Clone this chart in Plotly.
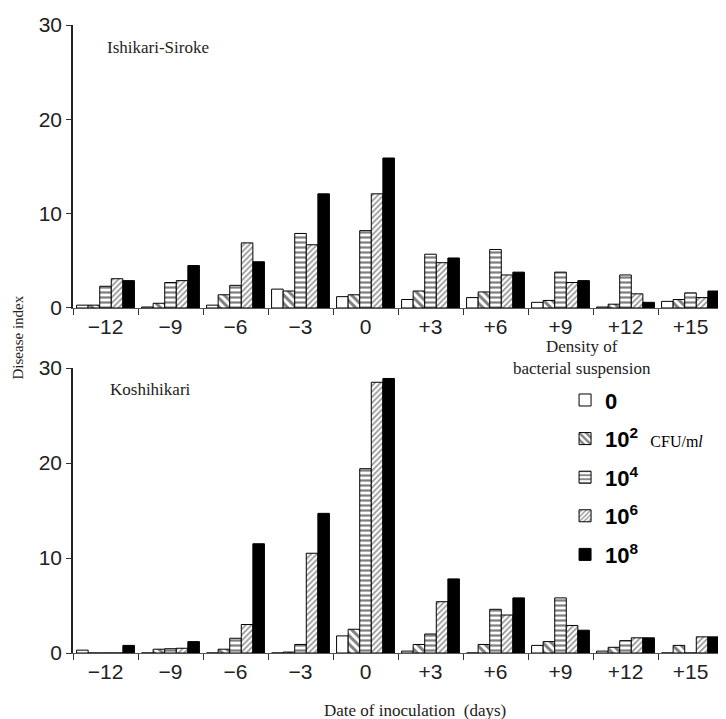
import plotly.graph_objects as go
from plotly.subplots import make_subplots

days = ["−12", "−9", "−6", "−3", "0", "+3", "+6", "+9", "+12", "+15"]
densities = ["0", "10<sup>2</sup>", "10<sup>4</sup>", "10<sup>6</sup>", "10<sup>8</sup>"]

# Ishikari-Siroke (top panel)
ishi_0 = [0.3, 0.1, 0.3, 2.0, 1.2, 0.9, 1.1, 0.6, 0.1, 0.7]
ishi_2 = [0.3, 0.5, 1.4, 1.8, 1.4, 1.8, 1.7, 0.8, 0.4, 0.9]
ishi_4 = [2.3, 2.7, 2.4, 7.9, 8.2, 5.7, 6.2, 3.8, 3.5, 1.6]
ishi_6 = [3.1, 2.9, 6.9, 6.7, 12.1, 4.8, 3.5, 2.7, 1.5, 1.1]
ishi_8 = [2.9, 4.5, 4.9, 12.1, 15.9, 5.3, 3.8, 2.9, 0.6, 1.8]

# Koshihikari (bottom panel)
kosh_0 = [0.3, 0.0, 0.0, 0.0, 1.8, 0.2, 0.0, 0.8, 0.2, 0.0]
kosh_2 = [0.0, 0.4, 0.4, 0.1, 2.5, 0.9, 0.9, 1.2, 0.6, 0.8]
kosh_4 = [0.0, 0.45, 1.55, 0.9, 19.4, 2.0, 4.6, 5.8, 1.3, 0.0]
kosh_6 = [0.0, 0.5, 3.0, 10.5, 28.5, 5.4, 4.0, 2.9, 1.6, 1.7]
kosh_8 = [0.8, 1.2, 11.5, 14.7, 28.9, 7.8, 5.8, 2.4, 1.6, 1.7]

ishi = [ishi_0, ishi_2, ishi_4, ishi_6, ishi_8]
kosh = [kosh_0, kosh_2, kosh_4, kosh_6, kosh_8]

styles = [
    dict(color="white", pattern=dict(shape="")),
    dict(color="white", pattern=dict(shape="\\", fgcolor="black", bgcolor="white", size=6, solidity=0.5)),
    dict(color="white", pattern=dict(shape="-", fgcolor="black", bgcolor="white", size=5, solidity=0.45)),
    dict(color="white", pattern=dict(shape="/", fgcolor="#222", bgcolor="white", size=4, solidity=0.4)),
    dict(color="black", pattern=dict(shape="")),
]

TEXT = "#222"
SERIF = "Liberation Serif, Times New Roman, serif"
SANS = "Liberation Sans, Arial, sans-serif"

fig = make_subplots(rows=2, cols=1)

labels = []
for i, d in enumerate(densities):
    lab = "<b>" + d + "</b>"
    if i == 1:
        lab += ("&nbsp;&nbsp;<span style=\"font-family:Liberation Serif;font-size:16px;font-weight:normal\">"
                "CFU/m<i>l</i></span>")
    labels.append(lab)

for i in range(5):
    fig.add_trace(go.Bar(x=days, y=ishi[i], name=labels[i], legendgroup=str(i),
                         marker=dict(line=dict(color="black", width=1), **styles[i]),
                         showlegend=True), row=1, col=1)
    fig.add_trace(go.Bar(x=days, y=kosh[i], name=labels[i], legendgroup=str(i),
                         marker=dict(line=dict(color="black", width=1), **styles[i]),
                         showlegend=False), row=2, col=1)

axis_x = dict(type="category", showline=True, linecolor="#555", linewidth=1,
              ticks="outside", tickson="boundaries", ticklen=6, tickcolor="#333",
              tickfont=dict(family=SANS, size=21, color=TEXT), showgrid=False, zeroline=False)
axis_y = dict(range=[0, 30], tickvals=[0, 10, 20, 30], showline=True, linecolor="#222", linewidth=1.5,
              ticks="outside", ticklen=5, tickcolor="#333",
              tickfont=dict(family=SANS, size=21, color=TEXT), showgrid=False, zeroline=False)

# page body has an 8px margin, so the figure is drawn 8px smaller than the window
fig.update_layout(
    width=718, height=711,
    margin=dict(l=65, r=3, t=17, b=66),
    plot_bgcolor="white", paper_bgcolor="white",
    barmode="group", bargap=0.11, bargroupgap=0,
    xaxis=dict(domain=[0, 1], anchor="y", **axis_x),
    yaxis=dict(domain=[0.5494, 1.0], anchor="x", **axis_y),
    xaxis2=dict(domain=[0, 1], anchor="y2", **axis_x),
    yaxis2=dict(domain=[0.0, 0.4538], anchor="x2", **axis_y),
    legend=dict(x=0.757, y=0.436, xanchor="left", yanchor="top", bgcolor="rgba(0,0,0,0)",
                font=dict(family=SANS, size=22, color="black"), tracegroupgap=7,
                itemwidth=30),
    showlegend=True,
)

ann = dict(showarrow=False, font=dict(family=SERIF, size=17, color=TEXT))
fig.add_annotation(text="Ishikari-Siroke", xref="x domain", yref="y domain", x=0.049, y=0.919,
                   xanchor="left", yanchor="middle", **ann)
fig.add_annotation(text="Koshihikari", xref="x2 domain", yref="y2 domain", x=0.054, y=0.923,
                   xanchor="left", yanchor="middle", **ann)
fig.add_annotation(text="Density of<br>bacterial suspension", xref="paper", yref="paper",
                   x=0.783, y=0.470, xanchor="center", yanchor="middle", align="center",
                   showarrow=False, font=dict(family=SERIF, size=17, color=TEXT))
fig.add_annotation(text="Date of inoculation&nbsp;&nbsp;(days)", xref="paper", yref="paper",
                   x=0.526, y=-0.091, xanchor="center", yanchor="middle", **ann)
fig.add_annotation(text="Disease index", xref="paper", yref="paper", x=-0.085, y=0.502,
                   textangle=-90, xanchor="center", yanchor="middle",
                   showarrow=False, font=dict(family=SERIF, size=15, color=TEXT))

fig.write_html("out.html")
